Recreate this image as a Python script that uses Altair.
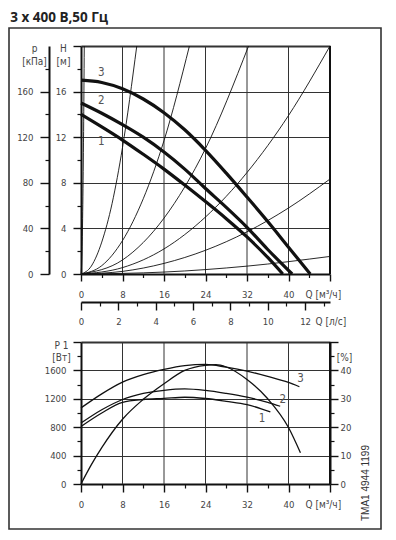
import altair as alt
import pandas as pd

# ---------------- values ----------------
# pump curves H(Q) [m] vs Q [m3/h]
q_h1 = [0, 4, 8, 12, 16, 20, 24, 28, 32, 36, 38.9]
h_1 = [14.0, 12.9, 11.75, 10.5, 9.2, 7.8, 6.35, 4.85, 3.25, 1.45, 0.0]
q_h2 = [0, 4, 8, 12, 16, 20, 24, 28, 32, 36, 40.7]
h_2 = [15.0, 14.1, 13.1, 12.0, 10.7, 9.2, 7.5, 5.85, 4.1, 2.15, 0.0]
q_h3 = [0, 4, 8, 12, 16, 20, 24, 28, 32, 36, 40, 44.2]
h_3 = [17.0, 16.8, 16.25, 15.35, 14.15, 12.65, 10.85, 8.85, 6.75, 4.6, 2.35, 0.0]

# system (thin) curves
s1_q = [0, 0.2, 0.35, 0.5, 0.63]
s1_h = [0, 2.0, 6.1, 12.5, 20.0]
s2_q = [0, 2, 4, 6, 8, 10.75]
s2_h = [0, 0.7, 2.8, 6.2, 11.1, 20.0]
s3_q = [0, 4, 8, 12, 16, 20.9]
s3_h = [0, 0.73, 2.93, 6.6, 11.7, 20.0]
s4_q = [0, 8, 16, 24, 32.3]
s4_h = [0, 1.23, 4.9, 11.0, 20.0]
s5_q = [0, 8, 16, 24, 32, 40, 48]
s5_h = [0, 0.56, 2.2, 5.0, 8.9, 13.9, 20.0]
s6_q = [0, 8, 16, 24, 32, 40, 48]
s6_h = [0, 0.23, 0.93, 2.08, 3.7, 5.79, 8.33]
s7_q = [0, 16, 32, 48]
s7_h = [0, 0.17, 0.69, 1.54]

# power curves P1 [W]
q_p1 = [0, 4, 8, 12, 16, 20, 24, 28, 32, 36.5]
p_1 = [810, 1000, 1150, 1190, 1205, 1222, 1204, 1165, 1119, 1015]
q_p2 = [0, 4, 8, 12, 16, 20, 24, 28, 32, 36, 38.4]
p_2 = [858, 1045, 1190, 1275, 1320, 1340, 1318, 1275, 1222, 1150, 1095]
q_p3 = [0, 4, 8, 12, 16, 20, 24, 28, 32, 36, 40, 42.1]
p_3 = [1072, 1270, 1435, 1540, 1614, 1668, 1685, 1645, 1590, 1515, 1430, 1370]

# efficiency [%]
q_eta = [0, 2, 4, 8, 12, 16, 20, 24, 26, 28, 32, 36, 40, 42.3]
eta = [0, 6.8, 12.8, 22.8, 29.8, 35.3, 40.0, 41.8, 42.0, 41.2, 36.8, 30.0, 19.9, 11.0]

# curve labels
lab_text = ["1", "2", "3"]
lab_up_q = [3.9, 3.9, 3.9]
lab_up_h = [11.6, 15.15, 17.6]
lab_lo_q = [34.9, 38.9, 42.3]
lab_lo_p = [920, 1190, 1473]

# axis ticks / grid values
q_major = [0, 8, 16, 24, 32, 40, 48]
q_minor = [4, 12, 20, 28, 36, 44]
q_grid = [8, 16, 24, 32, 40]
q_edge = [48]
h_major = [0, 4, 8, 12, 16, 20]
h_minor = [2, 6, 10, 14, 18]
p_major = [0, 40, 80, 120, 160]
p_minor = [20, 60, 100, 140, 180]
ls_major = [0, 2, 4, 6, 8, 10, 12]
ls_minor = [1, 3, 5, 7, 9, 11, 13]
w_major = [0, 400, 800, 1200, 1600, 2000]
w_minor = [200, 600, 1000, 1400, 1800]
e_major = [0, 10, 20, 30, 40, 50]
e_minor = [5, 15, 25, 35, 45]

title_text = "3 x 400 В,50 Гц"
code_text = "TMA1 4944 1199"

# ---------------- styling / layout ----------------
FONT = "Liberation Sans Narrow, DejaVu Sans Condensed, Liberation Sans, sans-serif"
LC = "#444"
INK = "#111"
GRID = "#333"

W = 249          # plot width (both panels)
HT = 438         # total height from top of upper panel to bottom of lower panel
UP_BOT = 228     # bottom of upper panel
LO_TOP = 296     # top of lower panel
UP_OFF = UP_BOT - HT   # axis offset for the upper Q axis

xs = alt.Scale(domain=[0, 48], nice=False, zero=False)
hs = alt.Scale(domain=[0, 20], nice=False, zero=False, range=[UP_BOT, 0])
ps = alt.Scale(domain=[0, 200], nice=False, zero=False, range=[UP_BOT, 0])
lss = alt.Scale(domain=[0, 48 / 3.6], nice=False, zero=False)
ws = alt.Scale(domain=[0, 2000], nice=False, zero=False, range=[HT, LO_TOP])
es = alt.Scale(domain=[0, 50], nice=False, zero=False, range=[HT, LO_TOP])

lab_common = dict(labelFont=FONT, labelFontSize=9.5, labelColor=LC,
                  labelFlush=False, labelOverlap=False, labelBound=False, format="d")
title_common = dict(titleFont=FONT, titleFontSize=10, titleFontWeight="normal",
                    titleColor=LC, titleAngle=0, titleBaseline="top")


def major_axis(orient, values, lab_max, tick, pad, grid_vals=None, top=None, **kw):
    if grid_vals:
        gtest = "indexof([" + ",".join(str(v) for v in grid_vals) + "], datum.value) >= 0"
        extra = dict(grid=True, gridColor=GRID,
                     gridOpacity={"condition": {"test": gtest, "value": 1}, "value": 0},
                     gridWidth={"condition": {"test": "datum.value == %s" % top, "value": 2},
                                "value": 1})
    else:
        extra = dict(grid=False)
    return alt.Axis(
        orient=orient, values=values,
        labelExpr="datum.value <= %s ? datum.label : ''" % lab_max,
        domain=True, domainColor=INK, domainWidth=2,
        ticks=True, tickSize=tick, tickColor=INK, tickWidth=1.4,
        labelPadding=pad, **extra, **lab_common, **kw)


def minor_axis(orient, values, tick, offset=0):
    return alt.Axis(orient=orient, values=values, labels=False, domain=False,
                    grid=False, ticks=True, tickSize=tick, tickColor=INK,
                    tickWidth=1.2, offset=offset, title=None)


# ---------------- tables ----------------
pump_rows = []
for name, qq, hh in (("1", q_h1, h_1), ("2", q_h2, h_2), ("3", q_h3, h_3)):
    for a, b in zip(qq, hh):
        pump_rows.append({"Q": a, "H": b, "c": name})
pump_df = pd.DataFrame(pump_rows)

sys_rows = []
for name, qq, hh in (("s1", s1_q, s1_h), ("s2", s2_q, s2_h), ("s3", s3_q, s3_h),
                     ("s4", s4_q, s4_h), ("s5", s5_q, s5_h), ("s6", s6_q, s6_h),
                     ("s7", s7_q, s7_h)):
    for a, b in zip(qq, hh):
        sys_rows.append({"Q": a, "H": b, "s": name})
sys_df = pd.DataFrame(sys_rows)

pow_rows = []
for name, qq, pp in (("1", q_p1, p_1), ("2", q_p2, p_2), ("3", q_p3, p_3)):
    for a, b in zip(qq, pp):
        pow_rows.append({"Q": a, "P": b, "c": name})
pow_df = pd.DataFrame(pow_rows)
eta_df = pd.DataFrame({"Q": q_eta, "E": eta})

h_lo, h_hi = h_major[0], h_major[-1]
w_lo, w_hi = w_major[0], w_major[-1]
vgrid_up_df = pd.DataFrame({"Q": q_grid, "a": [h_lo] * len(q_grid), "b": [h_hi] * len(q_grid)})
vgrid_lo_df = pd.DataFrame({"Q": q_grid, "a": [w_lo] * len(q_grid), "b": [w_hi] * len(q_grid)})
edge_up_df = pd.DataFrame({"Q": q_edge, "a": [h_lo], "b": [h_hi]})
edge_lo_df = pd.DataFrame({"Q": q_edge, "a": [w_lo], "b": [w_hi]})

# ---------------- layers ----------------
x_up_axis = major_axis("bottom", q_major, 40, 7, 8, offset=UP_OFF,
                       title="Q [м³/ч]", titleX=224, titleY=15, titleAlign="left",
                       **title_common)
h_axis = major_axis("left", h_major, 16, 8, 7, grid_vals=[4, 8, 12, 16, 20], top=20,
                    title=["H", "[м]"], titleX=-18, titleY=-3, titleLineHeight=13,
                    titleAlign="center", **title_common)
vgrid_up = alt.Chart(vgrid_up_df).mark_rule(color=GRID, strokeWidth=1).encode(
    x=alt.X("Q:Q", scale=xs, axis=x_up_axis),
    y=alt.Y("a:Q", scale=hs, axis=h_axis),
    y2="b:Q",
)

x_lo_axis = major_axis("bottom", q_major, 40, 8, 7,
                       title="Q [м³/ч]", titleX=224, titleY=15, titleAlign="left",
                       **title_common)
w_axis = major_axis("left", w_major, 1600, 8, 7, grid_vals=[400, 800, 1200, 1600, 2000],
                    top=2000, title=["P 1", "[Вт]"], titleX=-20, titleY=LO_TOP - 2,
                    titleLineHeight=12, titleAlign="center", **title_common)
vgrid_lo = alt.Chart(vgrid_lo_df).mark_rule(color=GRID, strokeWidth=1).encode(
    x=alt.X("Q:Q", scale=xs, axis=x_lo_axis),
    y=alt.Y("a:Q", scale=ws, axis=w_axis),
    y2="b:Q",
)

edge_up = alt.Chart(edge_up_df).mark_rule(color=INK, strokeWidth=2).encode(
    x=alt.X("Q:Q", scale=xs, axis=None),
    y=alt.Y("a:Q", scale=hs, axis=None),
    y2="b:Q",
)
edge_lo = alt.Chart(edge_lo_df).mark_rule(color=INK, strokeWidth=2).encode(
    x=alt.X("Q:Q", scale=xs, axis=None),
    y=alt.Y("a:Q", scale=ws, axis=None),
    y2="b:Q",
)

sys_layer = alt.Chart(sys_df).mark_line(
    color=INK, strokeWidth=0.9, interpolate="monotone"
).encode(
    x=alt.X("Q:Q", scale=xs, axis=minor_axis("bottom", q_minor, 3.5, offset=UP_OFF)),
    y=alt.Y("H:Q", scale=hs, axis=minor_axis("left", h_minor, 4)),
    detail="s:N",
)

pump_layer = alt.Chart(pump_df).mark_line(
    color=INK, strokeWidth=3.2, interpolate="monotone"
).encode(
    x=alt.X("Q:Q", scale=xs, axis=None),
    y=alt.Y("H:Q", scale=hs, axis=None),
    detail="c:N",
)

up_labels = alt.Chart(pd.DataFrame({"Q": lab_up_q, "H": lab_up_h, "t": lab_text})).mark_text(
    font=FONT, fontSize=11.5, color="#555"
).encode(
    x=alt.X("Q:Q", scale=xs, axis=None),
    y=alt.Y("H:Q", scale=hs, axis=None),
    text="t:N",
)

sec_df = pd.DataFrame({"l": [0, 13], "p": [0, 200]})
sec_major = alt.Chart(sec_df).mark_point(opacity=0).encode(
    x=alt.X("l:Q", scale=lss, axis=alt.Axis(
        orient="bottom", values=ls_major, offset=UP_OFF + 28, grid=False,
        domain=True, domainColor=INK, domainWidth=2,
        ticks=True, tickSize=8, tickColor=INK, tickWidth=1.4, labelPadding=6,
        title="Q [л/с]", titleX=234, titleY=14, titleAlign="left",
        **title_common, **lab_common)),
    y=alt.Y("p:Q", scale=ps, axis=alt.Axis(
        orient="left", values=p_major, offset=32, grid=False,
        domain=True, domainColor=INK, domainWidth=2,
        ticks=True, tickSize=9, tickColor=INK, tickWidth=1.4, labelPadding=7,
        title=["p", "[кПа]"], titleX=-15, titleY=-3, titleLineHeight=13,
        titleAlign="center", **title_common, **lab_common)),
)
sec_minor = alt.Chart(sec_df).mark_point(opacity=0).encode(
    x=alt.X("l:Q", scale=lss, axis=minor_axis("bottom", ls_minor, 4, offset=UP_OFF + 28)),
    y=alt.Y("p:Q", scale=ps, axis=minor_axis("left", p_minor, 4, offset=32)),
)

pow_layer = alt.Chart(pow_df).mark_line(
    color=INK, strokeWidth=1.3, interpolate="monotone"
).encode(
    x=alt.X("Q:Q", scale=xs, axis=minor_axis("bottom", q_minor, 4)),
    y=alt.Y("P:Q", scale=ws, axis=minor_axis("left", w_minor, 4)),
    detail="c:N",
)

e_axis = major_axis("right", e_major, 40, 8, 2,
                    title="[%]", titleX=14, titleY=LO_TOP + 10, titleAlign="center",
                    **title_common)
eta_layer = alt.Chart(eta_df).mark_line(
    color=INK, strokeWidth=1.3, interpolate="monotone"
).encode(
    x=alt.X("Q:Q", scale=xs, axis=None),
    y=alt.Y("E:Q", scale=es, axis=e_axis),
)
eta_minor = alt.Chart(eta_df).mark_point(opacity=0).encode(
    x=alt.X("Q:Q", scale=xs, axis=None),
    y=alt.Y("E:Q", scale=es, axis=minor_axis("right", e_minor, 4)),
)

lo_labels = alt.Chart(pd.DataFrame({"Q": lab_lo_q, "P": lab_lo_p, "t": lab_text})).mark_text(
    font=FONT, fontSize=11.5, color="#555"
).encode(
    x=alt.X("Q:Q", scale=xs, axis=None),
    y=alt.Y("P:Q", scale=ws, axis=None),
    text="t:N",
)

code = alt.Chart(pd.DataFrame({"t": [code_text]})).mark_text(
    font="Liberation Sans, Arial, sans-serif", fontSize=10, color="#333",
    angle=270, align="center", baseline="middle"
).encode(x=alt.value(285), y=alt.value(437), text="t:N")

frame = alt.Chart(pd.DataFrame({"a": [0]})).mark_rect(
    fillOpacity=0, stroke="#333", strokeWidth=1.6
).encode(
    x=alt.value(-72), x2=alt.value(300), y=alt.value(-18), y2=alt.value(483)
)

chart = alt.layer(
    vgrid_up, vgrid_lo, edge_up, edge_lo, sys_layer, pump_layer, up_labels,
    sec_major, sec_minor, pow_layer, eta_layer, eta_minor, lo_labels, code, frame
).resolve_scale(
    x="independent", y="independent"
).properties(
    width=W, height=HT,
    padding={"top": 2, "left": 0, "right": 0, "bottom": 0},
    title=alt.TitleParams(title_text, anchor="start", font="Open Sans",
                          fontSize=13.5, fontWeight="bold", color="#222",
                          offset=3, dx=2),
).configure_view(stroke=None)

chart.save("out.html", embed_options={"renderer": "svg", "actions": False})
